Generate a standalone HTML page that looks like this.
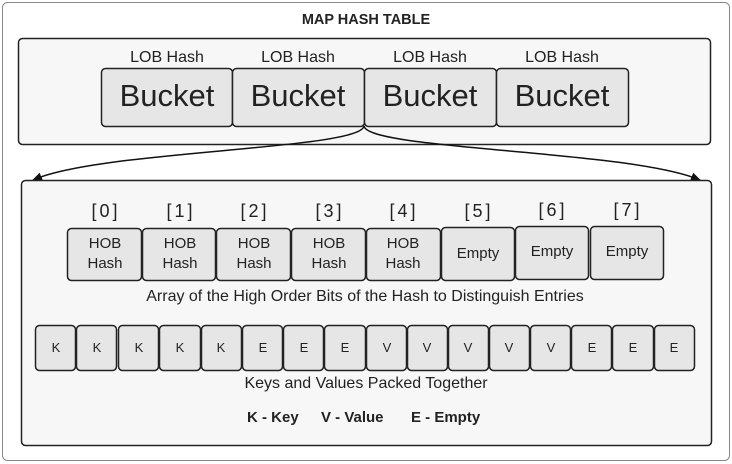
<!DOCTYPE html>
<html><head><style>body{margin:0;background:#fff}svg{display:block}text{font-family:"Liberation Sans",sans-serif;fill:#222}</style></head><body>
<svg width="732" height="464" viewBox="0 0 732 464">
<defs><marker id="a" markerWidth="10" markerHeight="8" refX="9" refY="4" orient="auto" markerUnits="userSpaceOnUse"><path d="M0,0L10,4L0,8z" fill="#111"/></marker></defs>
<rect x="2.5" y="2.5" width="727" height="458" rx="5" fill="#fff" stroke="#888"/>
<text x="366" y="24" text-anchor="middle" font-size="14.5" font-weight="bold">MAP HASH TABLE</text>
<rect x="18.5" y="38.5" width="692" height="106" rx="4" fill="#f7f7f7" stroke="#222" stroke-width="1.5"/>
<g font-size="16" text-anchor="middle">
<text x="167" y="62">LOB Hash</text><text x="298" y="62">LOB Hash</text><text x="430" y="62">LOB Hash</text><text x="562" y="62">LOB Hash</text></g>
<g fill="#e6e6e6" stroke="#222" stroke-width="1.5">
<rect x="101.5" y="68.5" width="131" height="58" rx="4"/><rect x="232.5" y="68.5" width="132" height="58" rx="4"/><rect x="364.5" y="68.5" width="132" height="58" rx="4"/><rect x="496.5" y="68.5" width="132" height="58" rx="4"/></g>
<g font-size="31" text-anchor="middle"><text x="167" y="106">Bucket</text><text x="298" y="106">Bucket</text><text x="430" y="106">Bucket</text><text x="562" y="106">Bucket</text></g>
<path d="M364,126 C360,150 100,150 33,180" fill="none" stroke="#111" stroke-width="1.5" marker-end="url(#a)"/>
<path d="M364,126 C368,150 630,150 700,180" fill="none" stroke="#111" stroke-width="1.5" marker-end="url(#a)"/>
<rect x="21.5" y="180.5" width="690" height="265" rx="4" fill="#f7f7f7" stroke="#222" stroke-width="1.5"/>
<g font-size="18" text-anchor="middle" letter-spacing="3">
<text x="106" y="217">[0]</text><text x="181" y="217">[1]</text><text x="255" y="217">[2]</text><text x="330" y="217">[3]</text><text x="404" y="217">[4]</text><text x="479" y="217">[5]</text><text x="553" y="216">[6]</text><text x="628" y="216">[7]</text></g>
<g fill="#e6e6e6" stroke="#222" stroke-width="1.5">
<rect x="67.5" y="228.5" width="74" height="52" rx="4"/><rect x="142.5" y="228.5" width="73" height="52" rx="4"/><rect x="216.5" y="228.5" width="74" height="52" rx="4"/><rect x="291.5" y="228.5" width="74" height="52" rx="4"/><rect x="366.5" y="228.5" width="74" height="52" rx="4"/><rect x="441.5" y="227.5" width="73" height="53" rx="4"/><rect x="515.5" y="226.5" width="73" height="53" rx="4"/><rect x="590.5" y="226.5" width="73" height="53" rx="4"/></g>
<g font-size="15" text-anchor="middle">
<text x="105" y="248">HOB</text><text x="105" y="268">Hash</text>
<text x="180" y="248">HOB</text><text x="180" y="268">Hash</text>
<text x="254" y="248">HOB</text><text x="254" y="268">Hash</text>
<text x="329" y="248">HOB</text><text x="329" y="268">Hash</text>
<text x="403" y="248">HOB</text><text x="403" y="268">Hash</text>
<text x="478" y="258">Empty</text><text x="552" y="256">Empty</text><text x="627" y="256">Empty</text></g>
<g font-size="16" text-anchor="middle">
<text x="365" y="301">Array of the High Order Bits of the Hash to Distinguish Entries</text>
<text x="366" y="388">Keys and Values Packed Together</text></g>
<g fill="#e6e6e6" stroke="#222" stroke-width="1.5">
<rect x="35.5" y="325.5" width="40" height="45" rx="4"/><rect x="76.5" y="325.5" width="40" height="45" rx="4"/><rect x="118.5" y="325.5" width="40" height="45" rx="4"/><rect x="159.5" y="325.5" width="41" height="45" rx="4"/><rect x="201.5" y="325.5" width="40" height="45" rx="4"/><rect x="242.5" y="325.5" width="40" height="45" rx="4"/><rect x="283.5" y="325.5" width="40" height="45" rx="4"/><rect x="324.5" y="325.5" width="41" height="45" rx="4"/><rect x="366.5" y="325.5" width="40" height="45" rx="4"/><rect x="407.5" y="325.5" width="40" height="45" rx="4"/><rect x="448.5" y="325.5" width="40" height="45" rx="4"/><rect x="489.5" y="325.5" width="40" height="45" rx="4"/><rect x="530.5" y="325.5" width="40" height="45" rx="4"/><rect x="571.5" y="325.5" width="40" height="45" rx="4"/><rect x="612.5" y="325.5" width="41" height="45" rx="4"/><rect x="654.5" y="325.5" width="40" height="45" rx="4"/></g>
<g font-size="13" text-anchor="middle" style="fill:#333">
<text x="56" y="352">K</text><text x="97" y="352">K</text><text x="139" y="352">K</text><text x="180" y="352">K</text><text x="221" y="352">K</text><text x="263" y="352">E</text><text x="304" y="352">E</text><text x="345" y="352">E</text><text x="387" y="352">V</text><text x="427" y="352">V</text><text x="468" y="352">V</text><text x="509" y="352">V</text><text x="551" y="352">V</text><text x="592" y="352">E</text><text x="633" y="352">E</text><text x="674" y="352">E</text></g>
<g font-size="15" font-weight="bold"><text x="247" y="422">K - Key</text><text x="321" y="422">V - Value</text><text x="411" y="422">E - Empty</text></g>
</svg>
</body></html>
